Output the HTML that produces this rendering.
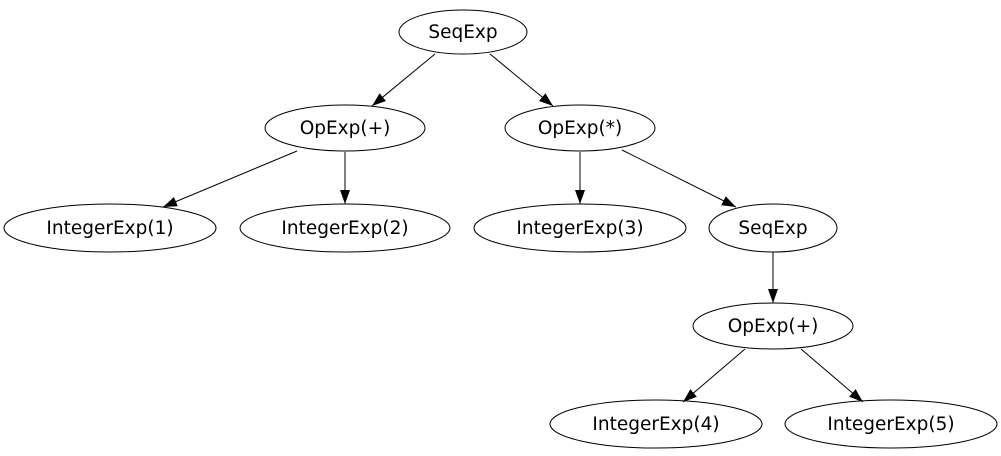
<!DOCTYPE html>
<html><head><style>html,body{margin:0;padding:0;background:#fff}svg{display:block}</style></head>
<body>
<svg width="1001" height="456" viewBox="0 0 1001 456" xmlns="http://www.w3.org/2000/svg">
<defs>
<marker id="a" markerWidth="15" markerHeight="11" refX="14" refY="5" orient="auto" markerUnits="userSpaceOnUse">
<path d="M0,0 L14,5 L0,10 Z" fill="#000"/>
</marker>
</defs>
<g fill="none" stroke="#000" stroke-width="1">
<ellipse cx="463" cy="32" rx="64" ry="22"/>
<ellipse cx="345" cy="128" rx="80" ry="23"/>
<ellipse cx="580" cy="128" rx="75" ry="23"/>
<ellipse cx="110" cy="228" rx="106" ry="24"/>
<ellipse cx="345" cy="228" rx="105" ry="24"/>
<ellipse cx="580" cy="228" rx="106" ry="24"/>
<ellipse cx="773" cy="228" rx="64" ry="24"/>
<ellipse cx="773" cy="326" rx="80" ry="23"/>
<ellipse cx="656" cy="424" rx="106" ry="24"/>
<ellipse cx="891" cy="424" rx="106" ry="24"/>
<g marker-end="url(#a)">
<line x1="435" y1="54" x2="372" y2="106"/>
<line x1="490" y1="54" x2="553" y2="106"/>
<line x1="297" y1="151" x2="163" y2="207"/>
<line x1="345" y1="152" x2="345" y2="204"/>
<line x1="580" y1="152" x2="580" y2="204"/>
<line x1="622" y1="150" x2="736" y2="207"/>
<line x1="773" y1="252" x2="773" y2="303"/>
<line x1="745" y1="349" x2="683" y2="402"/>
<line x1="801" y1="349" x2="863" y2="402"/>
</g>
</g>
<g font-family="'DejaVu Sans', 'Liberation Sans', sans-serif" font-size="18.5" text-anchor="middle" fill="#000">
<text x="463" y="38">SeqExp</text>
<text x="345" y="134">OpExp(+)</text>
<text x="580" y="134">OpExp(*)</text>
<text x="110" y="234">IntegerExp(1)</text>
<text x="345" y="234">IntegerExp(2)</text>
<text x="580" y="234">IntegerExp(3)</text>
<text x="773" y="234">SeqExp</text>
<text x="773" y="332">OpExp(+)</text>
<text x="656" y="430">IntegerExp(4)</text>
<text x="891" y="430">IntegerExp(5)</text>
</g>
</svg>
</body></html>
